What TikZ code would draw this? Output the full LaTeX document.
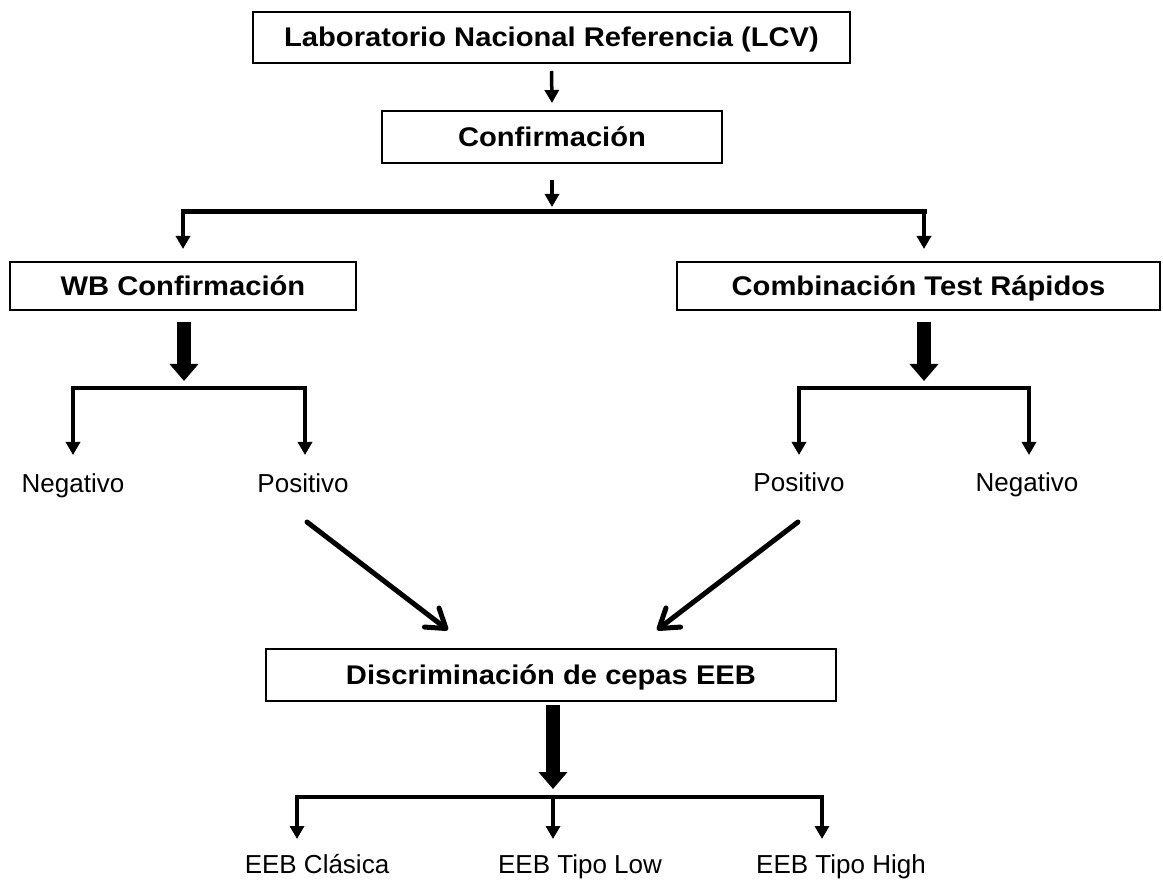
\documentclass[tikz,border=0pt]{standalone}
\usepackage{fontspec}
\setmainfont{Liberation Sans}
\newfontfamily\boxfont[FakeStretch=1.08]{Liberation Sans}
\usetikzlibrary{arrows.meta}
\begin{document}
\begin{tikzpicture}[x=1pt,y=-1pt,
  box/.style={draw, line width=2pt, inner sep=0pt, text height=19pt, text depth=0pt,
    font=\boxfont\bfseries\fontsize{27}{32}\selectfont},
  lbl/.style={inner sep=0pt, anchor=base, font=\fontsize{26}{31}\selectfont},
  sarrow/.style={line width=3.5pt, -{Triangle[length=13pt,width=14pt]}},
  bigarrow/.style={line width=14pt, -{Triangle[length=17pt,width=28pt]}},
  barline/.style={line width=4.5pt, line cap=rect},
  diag/.style={line width=5pt, line cap=round, line join=round,
    -{Straight Barb[length=18pt,width=24pt,line cap=round,line join=round]}}]
\fill[white] (0,0) rectangle (1163,882);
\useasboundingbox (0,0) rectangle (1163,882);

% boxes
\node[box, minimum width=597pt, minimum height=51pt] (lab) at (551.5,37.5) {Laboratorio Nacional Referencia (LCV)};
\node[box, minimum width=340pt, minimum height=52pt] (conf) at (552,137) {Confirmación};
\node[box, minimum width=346pt, minimum height=48pt] (wb) at (183,286) {WB Confirmación};
\node[box, minimum width=483pt, minimum height=48pt] (comb) at (918.5,286) {Combinación Test Rápidos};
\node[box, minimum width=570pt, minimum height=52pt] (disc) at (551,675) {Discriminación de cepas EEB};

% labels
\node[lbl] (neg1) at (73,493) {Negativo};
\node[lbl] (pos1) at (303,493) {Positivo};
\node[lbl] (pos2) at (799,492) {Positivo};
\node[lbl] (neg2) at (1027,492) {Negativo};
\node[lbl] (cla) at (317,873) {EEB Clásica};
\node[lbl] (low) at (580,873) {EEB Tipo Low};
\node[lbl] (high) at (841,873) {EEB Tipo High};

% coordinates
\coordinate (jtop) at (552,212);
\coordinate (tl) at (183,212);
\coordinate (tr) at (924,212);
\coordinate (wbin) at (183,249);
\coordinate (combin) at (924,249);
\coordinate (lbig) at (184,322);
\coordinate (jl) at (184,388);
\coordinate (bl1) at (73,388);
\coordinate (br1) at (305,388);
\coordinate (n1in) at (73,455);
\coordinate (p1in) at (305,455);
\coordinate (rbig) at (924,322);
\coordinate (jr) at (924,388);
\coordinate (bl2) at (799,388);
\coordinate (br2) at (1029,388);
\coordinate (p2in) at (799,455);
\coordinate (n2in) at (1029,455);
\coordinate (d1s) at (307,522);
\coordinate (d1e) at (448,630);
\coordinate (d2s) at (798,522);
\coordinate (d2e) at (657,630);
\coordinate (dbig) at (553,705);
\coordinate (jb) at (553,797);
\coordinate (bb1) at (297,797);
\coordinate (bb3) at (822,797);
\coordinate (c1in) at (297,839);
\coordinate (c2in) at (553,839);
\coordinate (c3in) at (822,839);

% top part
\draw[sarrow] ([yshift=-7pt]lab.south) -- ([yshift=7pt]conf.north);
\draw[sarrow] ([yshift=-16pt]conf.south) -- ([yshift=5pt]jtop);
\draw[barline, line width=5pt] (tl) -- (tr);
\draw[sarrow] (tl) -- (wbin);
\draw[sarrow] (tr) -- (combin);

% left branch
\draw[bigarrow] (lbig) -- ([yshift=7pt]jl);
\draw[barline] (bl1) -- (br1);
\draw[sarrow] (bl1) -- (n1in);
\draw[sarrow] (br1) -- (p1in);

% right branch
\draw[bigarrow] (rbig) -- ([yshift=7pt]jr);
\draw[barline] (bl2) -- (br2);
\draw[sarrow] (bl2) -- (p2in);
\draw[sarrow] (br2) -- (n2in);

% diagonals
\draw[diag] (d1s) -- (d1e);
\draw[diag] (d2s) -- (d2e);

% bottom
\draw[bigarrow] (dbig) -- ([yshift=8pt]jb);
\draw[barline] (bb1) -- (bb3);
\draw[sarrow] (bb1) -- (c1in);
\draw[sarrow] (jb) -- (c2in);
\draw[sarrow] (bb3) -- (c3in);
\end{tikzpicture}
\end{document}
